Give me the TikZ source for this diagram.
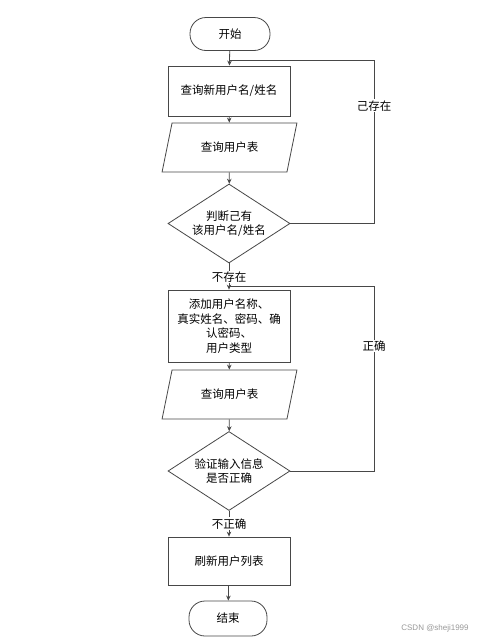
\documentclass[tikz,border=0pt]{standalone}
\usepackage{fontspec}
\setmainfont{Liberation Sans}
\newfontfamily\cjk{Noto Sans CJK SC}
\usetikzlibrary{shapes.geometric,arrows.meta}
\begin{document}
\begin{tikzpicture}[x=1pt,y=-1pt,
  every node/.style={font=\cjk\fontsize{11.5}{14.5}\selectfont},
  ln/.style={draw=black!72,line width=0.8pt},
  arr/.style={ln,-{Stealth[length=5pt,width=4.5pt]}},
  term/.style={ln,rectangle,rounded corners=16pt,minimum width=80pt,minimum height=33pt,inner sep=0pt},
  proc/.style={ln,rectangle,minimum width=122pt,inner sep=0pt,align=center},
  io/.style={ln,trapezium,trapezium left angle=65,trapezium right angle=115,trapezium stretches=true,minimum width=135pt,minimum height=49pt,inner sep=0pt},
  dec/.style={ln,diamond,minimum width=122pt,minimum height=79pt,inner sep=0pt,shape aspect=1.55,align=center},
  lbl/.style={fill=white,inner sep=1pt}]
\useasboundingbox[fill=white] (0,0) rectangle (479,640);

\node[term] (start) at (230,34) {开始};
\node[proc,minimum height=50pt] (q1) at (229,91) {查询新用户名/姓名};
\node[io] (t1) at (229.5,147.5) {查询用户表};
\node[dec] (d1) at (229,223.5) {判断己有\\该用户名/姓名};
\node[proc,minimum height=72pt] (add) at (229,326) {添加用户名称、\\真实姓名、密码、确\\认密码、\\用户类型};
\node[io] (t2) at (229.5,394.5) {查询用户表};
\node[dec] (d2) at (229,471) {验证输入信息\\是否正确};
\node[proc,minimum height=48pt] (ref) at (229,561) {刷新用户列表};
\node[term,minimum width=78pt,minimum height=35pt] (end) at (228,618.5) {结束};

\coordinate (r1) at (374,60);
\coordinate (j1) at (229,60);
\coordinate (r2) at (374,286);
\coordinate (j2) at (229,286);

\draw[arr] (start) -- (q1);
\draw[arr] (q1) -- (t1);
\draw[arr] (t1) -- (d1);
\draw[arr] (d1) -- node[lbl,pos=0.52] (l2) {不存在} (add);
\draw[arr] (add) -- (t2);
\draw[arr] (t2) -- (d2);
\draw[arr] (d2) -- node[lbl,pos=0.5] (l4) {不正确} (ref);
\draw[arr] (ref) -- (end);

\draw[ln] (d1.east) -| node[lbl,pos=0.86] (l1) {己存在} (r1) -- (j1);
\draw[ln] (d2.east) -| node[lbl,pos=0.838] (l3) {正确} (r2) -- (j2);

\node[font=\fontsize{8}{10}\selectfont,text=black!40] (wm) at (435,628) {CSDN @sheji1999};
\end{tikzpicture}
\end{document}
